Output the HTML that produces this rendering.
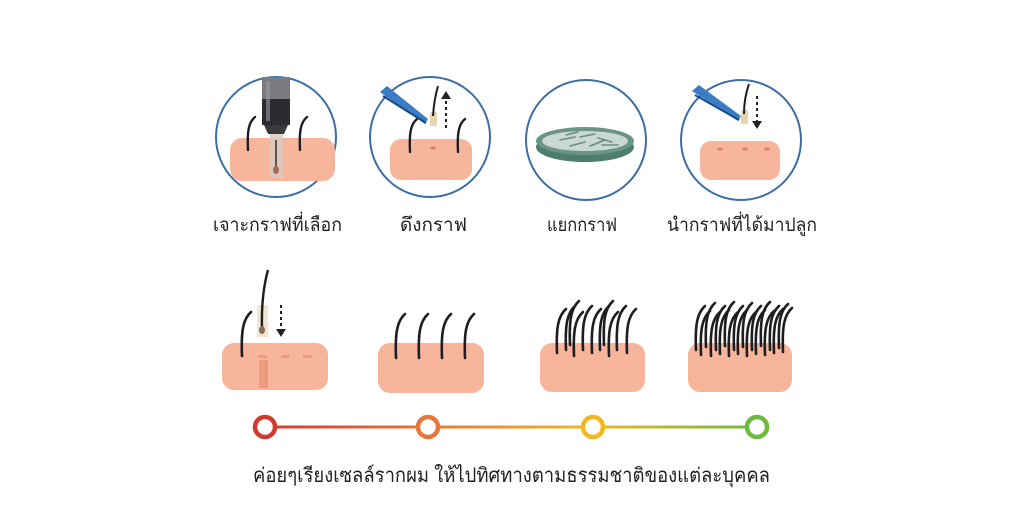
<!DOCTYPE html>
<html><head><meta charset="utf-8"><style>
html,body{margin:0;padding:0;background:#fff;}
svg{display:block;}
text{font-family:"Liberation Sans","Noto Sans CJK SC",sans-serif;fill:#222;}
</style></head><body>
<svg width="1024" height="512" viewBox="0 0 1024 512" xmlns="http://www.w3.org/2000/svg">
<defs>
<path id="h" d="M0 0 C-1 -25 1 -37 9 -44" fill="none" stroke="#1e1e22" stroke-width="2.6" stroke-linecap="round"/>
<path id="hs" d="M0 0 C-1 -20 1 -28 7 -33" fill="none" stroke="#1e1e22" stroke-width="2.4" stroke-linecap="round"/>
<linearGradient id="tl" x1="0" x2="1">
<stop offset="0" stop-color="#d23a30"/><stop offset="0.33" stop-color="#e8763a"/>
<stop offset="0.66" stop-color="#f2b81e"/><stop offset="1" stop-color="#6cbb3c"/>
</linearGradient>
</defs>

<g fill="none" stroke="#3c6ea6" stroke-width="2">
<circle cx="276" cy="137" r="60"/>
<circle cx="430" cy="137" r="60"/>
<circle cx="586" cy="140" r="60"/>
<circle cx="741" cy="140" r="60"/>
</g>

<!-- circle1 -->
<rect x="230" y="138" width="105" height="43" rx="12" fill="#f7b59c"/>
<use href="#hs" x="248" y="150"/>
<use href="#hs" x="300" y="150"/>
<rect x="270" y="130" width="13" height="48" fill="#d8cbc0" opacity="0.8"/>
<line x1="276" y1="140" x2="276" y2="168" stroke="#555" stroke-width="2"/>
<ellipse cx="276" cy="170" rx="3" ry="4" fill="#9b6a5a"/>
<rect x="262" y="77" width="28" height="22" fill="#7a7a80"/>
<rect x="262" y="99" width="28" height="26" fill="#2c2c30"/>
<path d="M264 125 L288 125 L284 134 L268 134 Z" fill="#3a3a3e"/>
<rect x="266" y="81" width="4" height="40" fill="#9a9aa0" opacity="0.6"/>

<!-- circle2 -->
<rect x="390" y="139" width="82" height="41" rx="11" fill="#f7b59c"/>
<use href="#hs" x="410" y="152"/>
<use href="#hs" x="458" y="152"/>
<ellipse cx="433" cy="148" rx="3" ry="1.5" fill="#d9806a"/>
<path d="M380 92 L387 86 L428 119 L425 124 Z" fill="#3b7cc4"/>
<path d="M383 96 L426 123" stroke="#1a4a8a" stroke-width="2"/>
<rect x="430" y="112" width="7" height="14" rx="2" fill="#e6d3b0"/>
<path d="M433 116 Q434 100 438 86" fill="none" stroke="#1e1e22" stroke-width="2"/>
<line x1="446" y1="128" x2="446" y2="98" stroke="#222" stroke-width="2" stroke-dasharray="3 3"/>
<path d="M441 99 L446 91 L451 99 Z" fill="#222"/>

<!-- circle3 dish -->
<ellipse cx="585" cy="147" rx="49" ry="15" fill="#4f7d6c"/>
<ellipse cx="585" cy="141" rx="49" ry="14" fill="#6a9585"/>
<ellipse cx="585" cy="141" rx="43" ry="10" fill="#c9d8d2"/>
<g stroke="#6a8d82" stroke-width="1.6" fill="none" stroke-linecap="round">
<path d="M560 140 L575 137"/><path d="M570 146 L585 142"/><path d="M580 137 L595 134"/>
<path d="M590 146 L605 140"/><path d="M598 138 L612 142"/><path d="M566 135 L578 132"/>
<path d="M602 145 L618 145"/>
</g>

<!-- circle4 -->
<rect x="700" y="141" width="80" height="39" rx="11" fill="#f7b59c"/>
<ellipse cx="720" cy="149" rx="3" ry="1.5" fill="#d9806a"/>
<ellipse cx="745" cy="149" rx="3" ry="1.5" fill="#d9806a"/>
<ellipse cx="767" cy="149" rx="3" ry="1.5" fill="#d9806a"/>
<path d="M692 91 L699 85 L741 116 L738 121 Z" fill="#3b7cc4"/>
<path d="M695 95 L739 120" stroke="#1a4a8a" stroke-width="2"/>
<rect x="741" y="110" width="7" height="14" rx="2" fill="#e6d3b0"/>
<path d="M744 114 Q744 98 749 84" fill="none" stroke="#1e1e22" stroke-width="2"/>
<line x1="757" y1="96" x2="757" y2="122" stroke="#222" stroke-width="2" stroke-dasharray="3 3"/>
<path d="M752 121 L757 129 L762 121 Z" fill="#222"/>

<!-- labels -->
<g font-size="19">
<text x="213" y="231" textLength="129" lengthAdjust="spacingAndGlyphs">เจาะกราฟที่เลือก</text>
<text x="400" y="231" textLength="67" lengthAdjust="spacingAndGlyphs">ดึงกราฟ</text>
<text x="547" y="231" textLength="70" lengthAdjust="spacingAndGlyphs">แยกกราฟ</text>
<text x="667" y="231" textLength="150" lengthAdjust="spacingAndGlyphs">นำกราฟที่ได้มาปลูก</text>
</g>

<!-- bottom blocks -->
<rect x="222" y="343" width="106" height="47" rx="12" fill="#f7b59c"/>
<rect x="259" y="360" width="9" height="28" fill="#ee9a80"/>
<g fill="#ee9a80"><rect x="258" y="355" width="9" height="3" rx="1"/><rect x="281" y="355" width="9" height="3" rx="1"/><rect x="303" y="355" width="9" height="3" rx="1"/></g>
<use href="#h" x="242" y="356"/>
<rect x="257" y="305" width="11" height="32" fill="#f1e2cc" opacity="0.9"/>
<path d="M262 330 Q261 295 268 270" fill="none" stroke="#1e1e22" stroke-width="2.4"/>
<ellipse cx="262" cy="330" rx="3" ry="4" fill="#8a6a5a"/>
<line x1="281" y1="305" x2="281" y2="330" stroke="#222" stroke-width="2" stroke-dasharray="3 3"/>
<path d="M276 329 L281 337 L286 329 Z" fill="#222"/>

<rect x="378" y="343" width="106" height="50" rx="12" fill="#f7b59c"/>
<use href="#h" x="396" y="358"/><use href="#h" x="419" y="358"/><use href="#h" x="442" y="358"/><use href="#h" x="465" y="358"/>

<rect x="540" y="343" width="105" height="49" rx="12" fill="#f7b59c"/>
<use href="#h" x="557" y="353"/><use href="#h" x="566" y="350"/><use href="#h" x="574" y="356"/>
<use href="#h" x="583" y="350"/><use href="#h" x="592" y="353"/><use href="#h" x="600" y="350"/>
<use href="#h" x="609" y="356"/><use href="#h" x="617" y="350"/><use href="#h" x="627" y="353"/>
<use href="#h" x="570" y="345"/><use href="#h" x="604" y="345"/>

<rect x="688" y="343" width="104" height="49" rx="12" fill="#f7b59c"/>
<use href="#h" x="696" y="350"/><use href="#h" x="701" y="355"/><use href="#h" x="706" y="347"/>
<use href="#h" x="711" y="356"/><use href="#h" x="716" y="350"/><use href="#h" x="720" y="354"/>
<use href="#h" x="725" y="346"/><use href="#h" x="729" y="356"/><use href="#h" x="734" y="350"/>
<use href="#h" x="738" y="354"/><use href="#h" x="743" y="347"/><use href="#h" x="747" y="356"/>
<use href="#h" x="752" y="350"/><use href="#h" x="756" y="354"/><use href="#h" x="761" y="346"/>
<use href="#h" x="765" y="355"/><use href="#h" x="770" y="350"/><use href="#h" x="774" y="353"/>
<use href="#h" x="779" y="348"/><use href="#h" x="783" y="352"/>

<!-- timeline -->
<rect x="265" y="425.5" width="492" height="3" fill="url(#tl)"/>
<g fill="#fff" stroke-width="4.5">
<circle cx="265" cy="427" r="10" stroke="#d23a30"/>
<circle cx="428" cy="427" r="10" stroke="#e8763a"/>
<circle cx="593" cy="427" r="10" stroke="#f2b81e"/>
<circle cx="757" cy="427" r="10" stroke="#6cbb3c"/>
</g>
<text x="253" y="482" font-size="20" textLength="517" lengthAdjust="spacingAndGlyphs">ค่อยๆเรียงเซลล์รากผม ให้ไปทิศทางตามธรรมชาติของแต่ละบุคคล</text>
</svg>
</body></html>
